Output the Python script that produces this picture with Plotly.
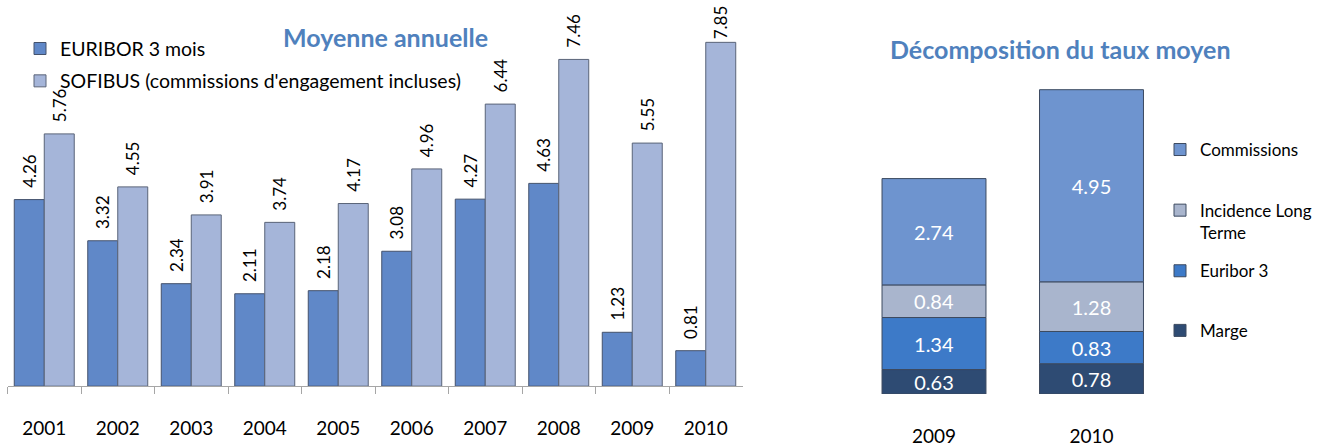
import plotly.graph_objects as go

# ---- data ----
years = ["2001", "2002", "2003", "2004", "2005", "2006", "2007", "2008", "2009", "2010"]
euribor_3m = [4.26, 3.32, 2.34, 2.11, 2.18, 3.08, 4.27, 4.63, 1.23, 0.81]
sofibus = [5.76, 4.55, 3.91, 3.74, 4.17, 4.96, 6.44, 7.46, 5.55, 7.85]

decomp_years = ["2009", "2010"]
marge = [0.63, 0.78]
euribor3 = [1.34, 0.83]
incidence_lt = [0.84, 1.28]
commissions = [2.74, 4.95]

W, H = 1323, 447
FONT = "Lato"
TITLE_BLUE = "#4f81bd"

def px_x(p):
    return p / W

def px_y(p):
    return 1 - p / H

fig = go.Figure()

PAD = "\u00a0\u00a0"
# label templates: padded so labels float a little above the bars,
# except where the bar reaches the top of the plot
eur_tmpl = [PAD + "%{y:.2f}"] * len(years)
sof_tmpl = [PAD + "%{y:.2f}"] * (len(years) - 1) + ["%{y:.2f}"]

fig.add_trace(go.Bar(
    x=years, y=euribor_3m, name="EURIBOR 3 mois",
    marker=dict(color="#6088c8", line=dict(color="#44526c", width=1)),
    texttemplate=eur_tmpl, textposition="outside", textangle=-90,
    textfont=dict(size=17, color="#000000", family=FONT), cliponaxis=False,
    constraintext="none", offsetgroup="eur", legendgroup="g1",
    xaxis="x", yaxis="y", legend="legend",
))
fig.add_trace(go.Bar(
    x=years, y=sofibus, name="SOFIBUS (commissions d'engagement incluses)",
    marker=dict(color="#a5b5d9", line=dict(color="#5a6478", width=1)),
    texttemplate=sof_tmpl, textposition="outside", textangle=-90,
    textfont=dict(size=17, color="#000000", family=FONT), cliponaxis=False,
    constraintext="none", offsetgroup="sof", legendgroup="g2",
    xaxis="x", yaxis="y", legend="legend",
))

stack = [
    ("Marge", marge, "#2e4b73", "legend5"),
    ("Euribor 3", euribor3, "#3d7ac8", "legend4"),
    ("Incidence Long<br>Terme", incidence_lt, "#a9b5cd", "legend3"),
    ("Commissions", commissions, "#6e94cf", "legend2"),
]
for name, vals, col, lg in stack:
    fig.add_trace(go.Bar(
        x=decomp_years, y=vals, name=name, width=0.66,
        marker=dict(color=col, line=dict(color="#3c4a60", width=1)),
        texttemplate="%{y:.2f}", textposition="inside", insidetextanchor="middle",
        textfont=dict(size=20, color="#ffffff", family=FONT),
        constraintext="none",
        xaxis="x2", yaxis="y2", legend=lg,
    ))

legend_common = dict(
    bgcolor="rgba(0,0,0,0)", font=dict(family=FONT, size=17, color="#000000"),
    xanchor="left", yanchor="top", valign="top", itemclick=False,
)

fig.update_layout(
    width=W, height=H,
    margin=dict(l=0, r=0, t=0, b=0),
    paper_bgcolor="white", plot_bgcolor="white",
    barmode="relative", bargap=0.184, bargroupgap=0,
    font=dict(family=FONT, color="#000000"),
    xaxis=dict(domain=[px_x(7.5), px_x(742.5)], anchor="y",
               showline=True, linecolor="#a6a6a6", linewidth=1,
               ticks="outside", tickson="boundaries", ticklen=7, tickcolor="#a6a6a6",
               ticklabelstandoff=25, tickfont=dict(size=19, family=FONT),
               showgrid=False, zeroline=False),
    yaxis=dict(domain=[px_y(395), px_y(36.6)], range=[0, 8], anchor="x",
               visible=False, showgrid=False),
    xaxis2=dict(domain=[px_x(855.25), px_x(1170.25)], anchor="y2",
                showline=False, ticks="", ticklabelstandoff=29,
                tickfont=dict(size=19, family=FONT), showgrid=False, zeroline=False),
    yaxis2=dict(domain=[px_y(403), px_y(85.4)], range=[0, 8], anchor="x2",
                visible=False, showgrid=False),
    legend=dict(x=px_x(20), y=px_y(30), tracegroupgap=4,
                **{**legend_common, "font": dict(family=FONT, size=19.5, color="#000000")}),
    legend2=dict(x=px_x(1160), y=px_y(135), **legend_common),
    legend3=dict(x=px_x(1160), y=px_y(197), **legend_common),
    legend4=dict(x=px_x(1160), y=px_y(259), **legend_common),
    legend5=dict(x=px_x(1160), y=px_y(320), **legend_common),
    annotations=[
        dict(text="<b>Moyenne annuelle</b>", x=px_x(385), y=px_y(38), xref="paper", yref="paper",
             xanchor="center", yanchor="middle", showarrow=False,
             font=dict(family=FONT, size=25, color=TITLE_BLUE)),
        dict(text="<b>Décomposition du taux moyen</b>", x=px_x(1060), y=px_y(50), xref="paper", yref="paper",
             xanchor="center", yanchor="middle", showarrow=False,
             font=dict(family=FONT, size=25, color=TITLE_BLUE)),
    ],
)

fig.write_html("out.html")
